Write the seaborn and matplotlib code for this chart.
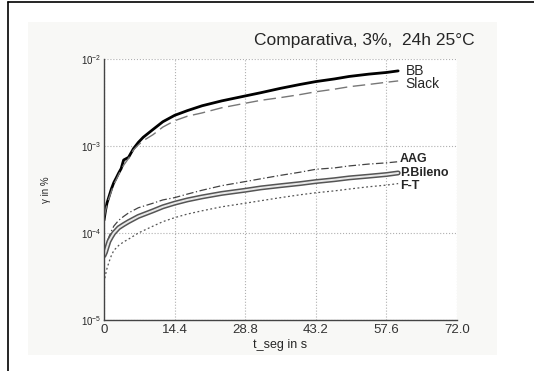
import numpy as np
import pandas as pd
import matplotlib
matplotlib.use("Agg")
import matplotlib.pyplot as plt
import matplotlib.patheffects as pe
import seaborn as sns
from matplotlib.patches import Rectangle
from matplotlib.lines import Line2D

# values (t in s, gamma in %)
t_bb = [0, 0.3, 0.6, 1, 1.5, 2, 2.5, 3, 3.5, 4, 5, 6, 7, 8, 10, 12, 14.4, 17, 20,
        24, 28.8, 32, 36, 40, 43.2, 47, 50, 54, 57.6, 60]
bb = [1.4e-4, 1.8e-4, 2.2e-4, 2.6e-4, 3.2e-4, 3.8e-4, 4.3e-4, 4.9e-4, 5.5e-4, 6.9e-4,
      7.4e-4, 9.3e-4, 1.1e-3, 1.26e-3, 1.55e-3, 1.9e-3, 2.25e-3, 2.55e-3, 2.9e-3,
      3.3e-3, 3.76e-3, 4.1e-3, 4.6e-3, 5.1e-3, 5.5e-3, 5.9e-3, 6.3e-3, 6.7e-3, 7.0e-3, 7.3e-3]
slack = [1.5e-4, 1.8e-4, 2.1e-4, 2.5e-4, 3.0e-4, 3.6e-4, 4.1e-4, 4.7e-4, 5.3e-4, 6.0e-4,
         7.2e-4, 9.0e-4, 1.03e-3, 1.15e-3, 1.35e-3, 1.65e-3, 1.95e-3, 2.2e-3, 2.4e-3,
         2.75e-3, 3.1e-3, 3.35e-3, 3.6e-3, 3.9e-3, 4.2e-3, 4.5e-3, 4.8e-3, 5.1e-3, 5.4e-3, 5.6e-3]

t_low = [0, 0.3, 0.6, 1, 1.5, 2, 3, 4, 5, 7, 10, 12, 14.4, 17, 20, 24, 28.8, 32, 36,
         40, 43.2, 47, 50, 54, 57.6, 60]
aag = [5.8e-5, 6.8e-5, 7.8e-5, 9.0e-5, 1.05e-4, 1.2e-4, 1.4e-4, 1.55e-4, 1.7e-4, 1.95e-4,
       2.2e-4, 2.4e-4, 2.55e-4, 2.8e-4, 3.1e-4, 3.5e-4, 3.9e-4, 4.2e-4, 4.6e-4, 5.0e-4,
       5.4e-4, 5.6e-4, 5.9e-4, 6.2e-4, 6.4e-4, 6.6e-4]
pbileno = [5.5e-5, 6.0e-5, 6.8e-5, 8.0e-5, 9.0e-5, 1.0e-4, 1.15e-4, 1.25e-4, 1.35e-4, 1.55e-4,
           1.8e-4, 2.0e-4, 2.2e-4, 2.4e-4, 2.6e-4, 2.85e-4, 3.1e-4, 3.3e-4, 3.5e-4, 3.7e-4,
           3.9e-4, 4.1e-4, 4.3e-4, 4.5e-4, 4.7e-4, 4.9e-4]
ft = [2.7e-5, 3.3e-5, 3.9e-5, 4.6e-5, 5.5e-5, 6.3e-5, 7.2e-5, 7.9e-5, 8.5e-5, 1.0e-4,
      1.2e-4, 1.35e-4, 1.5e-4, 1.65e-4, 1.8e-4, 2.0e-4, 2.2e-4, 2.35e-4, 2.55e-4, 2.75e-4,
      2.9e-4, 3.05e-4, 3.2e-4, 3.4e-4, 3.55e-4, 3.7e-4]

xticks = [0, 14.4, 28.8, 43.2, 57.6, 72.0]
xtick_labels = ["0", "14.4", "28.8", "43.2", "57.6", "72.0"]

sns.set_style("white")
plt.rcParams['font.family'] = ['Liberation Sans', 'DejaVu Sans']

W, H = 534, 371
fig = plt.figure(figsize=(W / 100, H / 100), dpi=100)
fig.patch.set_facecolor("white")

# outer frame lines and light panel
fig.add_artist(Line2D([8 / W, 8 / W], [0, 1 - 2 / H], color="black", lw=1.2))
fig.add_artist(Line2D([8 / W, 1], [1 - 2 / H, 1 - 2 / H], color="black", lw=1.2))
fig.patches.append(Rectangle((28 / W, 1 - 355 / H), (497 - 28) / W, (355 - 22) / H,
                             transform=fig.transFigure, facecolor="#f8f8f6",
                             edgecolor="none", zorder=-1))

ax = fig.add_axes([104 / W, 1 - 320 / H, (457 - 104) / W, (320 - 59) / H])
ax.set_facecolor("white")

df_hi = pd.DataFrame({"t": t_bb, "BB": bb, "Slack": slack})
df_lo = pd.DataFrame({"t": t_low, "AAG": aag, "P.Bileno": pbileno, "F-T": ft})

sns.lineplot(data=df_hi, x="t", y="BB", ax=ax, color="black", lw=2.0)
sns.lineplot(data=df_hi, x="t", y="Slack", ax=ax, color="#777777", lw=1.0,
             linestyle=(0, (9, 4)))
sns.lineplot(data=df_lo, x="t", y="AAG", ax=ax, color="#444444", lw=0.9,
             linestyle=(0, (6, 2, 1, 2)))
sns.lineplot(data=df_lo, x="t", y="P.Bileno", ax=ax, color="#e8e8e8", lw=1.4,
             path_effects=[pe.Stroke(linewidth=3.6, foreground="#555555"), pe.Normal()])
sns.lineplot(data=df_lo, x="t", y="F-T", ax=ax, color="#555555", lw=0.9,
             linestyle=(0, (1.5, 2)))

ax.set_yscale("log")
ax.set_xlim(0, 72)
ax.set_ylim(1e-5, 1e-2)
ax.set_xticks(xticks)
ax.set_xticklabels(xtick_labels, fontsize=9.5, color="#333333")
ax.set_yticks([1e-5, 1e-4, 1e-3, 1e-2])
ax.tick_params(axis="y", labelsize=7, length=0, pad=2)
ax.tick_params(axis="x", length=0, pad=3)
ax.yaxis.set_minor_locator(matplotlib.ticker.NullLocator())
ax.grid(True, which="major", color="#b0b0b0", linestyle=":", lw=0.8)
for s in ["top", "right"]:
    ax.spines[s].set_visible(False)
for s in ["left", "bottom"]:
    ax.spines[s].set_color("#444444")
    ax.spines[s].set_linewidth(1.0)

ax.set_xlabel("t_seg in s", fontsize=9, labelpad=2)
ax.set_ylabel("γ in %", fontsize=7, labelpad=21)

# curve labels at the right ends
ax.text(61.5, bb[-1], "BB", fontsize=10, va="center", ha="left")
ax.text(61.5, slack[-1] * 0.93, "Slack", fontsize=10, va="center", ha="left")
ax.text(60.3, aag[-1] * 1.06, "AAG", fontsize=9, va="center", ha="left", fontweight="bold")
ax.text(60.3, pbileno[-1], "P.Bileno", fontsize=9, va="center", ha="left", fontweight="bold")
ax.text(60.3, ft[-1] * 0.95, "F-T", fontsize=9, va="center", ha="left", fontweight="bold")

fig.text(475 / W, 1 - 41 / H, "Comparativa, 3%,  24h 25°C", fontsize=12.5,
         ha="right", va="center")

fig.savefig("out.png", dpi=100)
